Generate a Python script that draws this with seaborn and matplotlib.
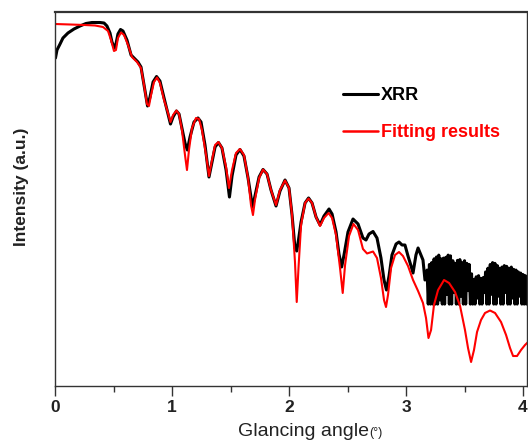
import pandas as pd
import matplotlib
matplotlib.use('Agg')
import matplotlib.pyplot as plt
from matplotlib.lines import Line2D
from matplotlib.ticker import MultipleLocator
import seaborn as sns

# --- data (y = log intensity, arbitrary units) ---
xrr_angle = [
    0.004, 0.017, 0.043, 0.068, 0.111, 0.162, 0.214, 0.265, 0.316, 0.385,
    0.419, 0.444, 0.470, 0.487, 0.509, 0.521, 0.538, 0.560, 0.581, 0.615,
    0.650, 0.684, 0.709, 0.735, 0.761, 0.791, 0.812, 0.838, 0.868, 0.897,
    0.932, 0.966, 0.987, 1.009, 1.038, 1.060, 1.085, 1.111, 1.131, 1.154,
    1.188, 1.222, 1.248, 1.282, 1.316, 1.342, 1.368, 1.397, 1.427, 1.462,
    1.491, 1.513, 1.547, 1.581, 1.615, 1.650, 1.688, 1.709, 1.744, 1.778,
    1.812, 1.846, 1.889, 1.923, 1.966, 2.000, 2.026, 2.051, 2.066, 2.081,
    2.103, 2.137, 2.167, 2.197, 2.231, 2.265, 2.299, 2.342, 2.368, 2.402,
    2.427, 2.450, 2.470, 2.504, 2.547, 2.590, 2.632, 2.658, 2.684, 2.718,
    2.752, 2.786, 2.812, 2.833, 2.855, 2.880, 2.915, 2.940, 2.966, 2.991,
    3.017, 3.043, 3.060, 3.085, 3.103, 3.128, 3.145, 3.162,
    # noisy tail of the measurement
    3.18, 3.19, 3.20, 3.21, 3.22, 3.23, 3.24, 3.25, 3.26, 3.27,
    3.28, 3.29, 3.30, 3.31, 3.32, 3.33, 3.34, 3.35, 3.36, 3.37,
    3.38, 3.39, 3.40, 3.41, 3.42, 3.43, 3.44, 3.45, 3.46, 3.47,
    3.48, 3.49, 3.50, 3.51, 3.52, 3.53, 3.54, 3.55, 3.56, 3.57,
    3.58, 3.59, 3.60, 3.61, 3.62, 3.63, 3.64, 3.65, 3.66, 3.67,
    3.68, 3.69, 3.70, 3.71, 3.72, 3.73, 3.74, 3.75, 3.76, 3.77,
    3.78, 3.79, 3.80, 3.81, 3.82, 3.83, 3.84, 3.85, 3.86, 3.87,
    3.88, 3.89, 3.90, 3.91, 3.92, 3.93, 3.94, 3.95, 3.96, 3.97,
    3.98, 3.99, 4.00, 4.01, 4.02, 4.03, 4.04,
]
xrr_intensity = [
    8.770, 8.984, 9.144, 9.305, 9.439, 9.545, 9.626, 9.693, 9.719, 9.719,
    9.706, 9.626, 9.439, 9.198, 9.037, 9.144, 9.412, 9.532, 9.492, 9.251,
    8.850, 8.743, 8.663, 8.529, 8.048, 7.487, 7.727, 8.128, 8.275, 8.155,
    7.701, 7.273, 7.005, 7.193, 7.353, 7.273, 6.898, 6.497, 6.310, 6.658,
    7.059, 7.166, 7.059, 6.444, 5.588, 5.989, 6.390, 6.511, 6.364, 5.775,
    5.053, 5.615, 6.176, 6.324, 6.150, 5.561, 4.786, 5.080, 5.588, 5.789,
    5.668, 5.241, 4.813, 5.214, 5.508, 5.294, 4.572, 3.690, 3.610, 3.904,
    4.385, 4.893, 5.027, 4.893, 4.519, 4.305, 4.545, 4.733, 4.599, 4.118,
    3.529, 3.182, 3.503, 4.118, 4.465, 4.332, 3.957, 3.904, 4.064, 4.131,
    3.957, 3.422, 2.834, 2.567, 2.941, 3.503, 3.797, 3.850, 3.770, 3.770,
    3.476, 3.209, 3.021, 3.503, 3.690, 3.503, 3.369, 2.834,
    3.10, 2.19, 3.25, 2.19, 3.30, 2.19, 3.40, 2.19, 3.45, 2.19,
    3.50, 2.30, 3.40, 2.19, 3.42, 2.19, 3.44, 2.45, 3.50, 2.19,
    3.48, 2.19, 3.35, 2.50, 3.28, 2.19, 3.36, 2.19, 3.38, 2.40,
    3.30, 2.19, 3.35, 2.19, 3.28, 2.55, 3.25, 2.19, 3.00, 2.19,
    2.85, 2.19, 2.92, 2.35, 2.95, 2.19, 2.88, 2.19, 2.90, 2.50,
    3.05, 2.19, 3.15, 2.19, 3.25, 2.45, 3.30, 2.19, 3.28, 2.19,
    3.22, 2.40, 3.15, 2.19, 3.18, 2.19, 3.22, 2.50, 3.20, 2.19,
    3.15, 2.19, 3.18, 2.35, 3.12, 2.19, 3.10, 2.19, 3.05, 2.40,
    3.02, 2.19, 2.98, 2.19, 2.95, 2.19, 2.92,
]

fit_angle = [
    0.000, 0.128, 0.256, 0.342, 0.410, 0.453, 0.479, 0.504, 0.521, 0.538,
    0.564, 0.590, 0.624, 0.658, 0.701, 0.735, 0.761, 0.786, 0.803, 0.821,
    0.846, 0.872, 0.897, 0.932, 0.966, 0.987, 1.009, 1.038, 1.060, 1.085,
    1.111, 1.128, 1.145, 1.171, 1.205, 1.231, 1.256, 1.291, 1.316, 1.342,
    1.368, 1.397, 1.427, 1.462, 1.487, 1.513, 1.547, 1.581, 1.615, 1.650,
    1.675, 1.692, 1.709, 1.744, 1.778, 1.812, 1.846, 1.889, 1.923, 1.966,
    2.000, 2.026, 2.051, 2.066, 2.081, 2.103, 2.137, 2.167, 2.197, 2.231,
    2.265, 2.299, 2.338, 2.368, 2.402, 2.436, 2.459, 2.479, 2.513, 2.551,
    2.590, 2.632, 2.667, 2.718, 2.752, 2.786, 2.812, 2.829, 2.846, 2.872,
    2.906, 2.940, 2.974, 3.017, 3.060, 3.103, 3.145, 3.171, 3.192, 3.214,
    3.239, 3.274, 3.325, 3.368, 3.419, 3.462, 3.504, 3.530, 3.556, 3.581,
    3.607, 3.641, 3.675, 3.718, 3.761, 3.812, 3.855, 3.889, 3.915, 3.949,
    3.983, 4.017, 4.043,
]
fit_intensity = [
    9.679, 9.666, 9.652, 9.639, 9.599, 9.492, 9.251, 8.957, 8.984, 9.305,
    9.452, 9.385, 9.118, 8.797, 8.663, 8.503, 8.048, 7.540, 7.487, 7.781,
    8.128, 8.249, 8.102, 7.647, 7.299, 7.059, 7.246, 7.366, 7.273, 6.845,
    6.176, 5.775, 6.310, 6.898, 7.166, 7.139, 6.845, 6.176, 5.615, 6.043,
    6.444, 6.524, 6.364, 5.856, 5.294, 5.775, 6.230, 6.337, 6.176, 5.561,
    4.840, 4.572, 4.973, 5.561, 5.789, 5.668, 5.241, 4.840, 5.241, 5.495,
    5.294, 4.572, 3.316, 2.246, 3.155, 4.305, 4.893, 5.013, 4.893, 4.519,
    4.278, 4.492, 4.626, 4.492, 4.037, 3.155, 2.487, 3.235, 4.011, 4.332,
    4.171, 3.663, 3.543, 3.596, 3.422, 2.888, 2.299, 2.112, 2.433, 3.155,
    3.503, 3.583, 3.476, 3.209, 2.834, 2.540, 2.219, 1.818, 1.283, 1.497,
    2.166, 2.567, 2.834, 2.754, 2.513, 2.139, 1.497, 1.016, 0.642, 0.963,
    1.444, 1.765, 1.952, 2.019, 1.952, 1.711, 1.364, 1.016, 0.802, 0.802,
    0.963, 1.096, 1.176,
]


def main():
    sns.set_style('white')
    plt.rcParams['font.family'] = ['Liberation Sans', 'DejaVu Sans']

    df_xrr = pd.DataFrame({'angle': xrr_angle, 'intensity': xrr_intensity})
    df_fit = pd.DataFrame({'angle': fit_angle, 'intensity': fit_intensity})

    fig = plt.figure(figsize=(5.28, 4.43), dpi=100)
    ax = fig.add_axes([55 / 528, 1 - 386 / 443, 472 / 528, 374 / 443])

    sns.lineplot(data=df_xrr, x='angle', y='intensity', color='black',
                 linewidth=2.2, estimator=None, sort=False, ax=ax)
    sns.lineplot(data=df_fit, x='angle', y='intensity', color='#ff0000',
                 linewidth=1.5, estimator=None, sort=False, ax=ax)

    ax.set_xlim(0, 4.034)
    ax.set_ylim(0, 10)
    ax.set_yticks([])
    ax.set_ylabel('')
    ax.set_xlabel('')

    ax.xaxis.set_major_locator(MultipleLocator(1))
    ax.xaxis.set_minor_locator(MultipleLocator(0.5))
    ax.tick_params(axis='x', which='major', direction='out', length=7,
                   width=1.0, color='#333333', labelsize=12.5, pad=3,
                   bottom=True)
    ax.tick_params(axis='x', which='minor', direction='out', length=4,
                   width=1.0, color='#333333', bottom=True)
    for lbl in ax.get_xticklabels():
        lbl.set_fontweight('bold')
        lbl.set_color('#222222')

    for side in ['left', 'bottom', 'right']:
        ax.spines[side].set_color('#333333')
        ax.spines[side].set_linewidth(1.0)
    ax.spines['top'].set_color('#333333')
    ax.spines['top'].set_linewidth(1.6)

    # axis titles
    fig.text(21.7 / 528, 1 - 186.5 / 443, 'Intensity (a.u.)', rotation=90,
             ha='center', va='center', fontsize=12.5, fontweight='bold',
             color='#222222')
    fig.text(303.5 / 528, 1 - 432 / 443, 'Glancing angle', ha='center',
             va='center', fontsize=14, color='#222222')
    fig.text(369 / 528, 1 - 433 / 443, '(°)', ha='left', va='center',
             fontsize=9, color='#222222')

    # legend
    handles = [Line2D([], [], color='black', linewidth=2.2),
               Line2D([], [], color='#ff0000', linewidth=1.8)]
    ax.legend(handles, ['XRR', 'Fitting results'], frameon=False,
              loc='upper left', bbox_to_anchor=((343 - 55) / 472, (386 - 87) / 374),
              borderaxespad=0, borderpad=0, handlelength=1.95,
              handletextpad=0.17, labelspacing=1.12, labelcolor='linecolor',
              prop={'weight': 'bold', 'size': 13})

    fig.savefig('out.png', dpi=100)
    plt.close(fig)


if __name__ == '__main__':
    main()
